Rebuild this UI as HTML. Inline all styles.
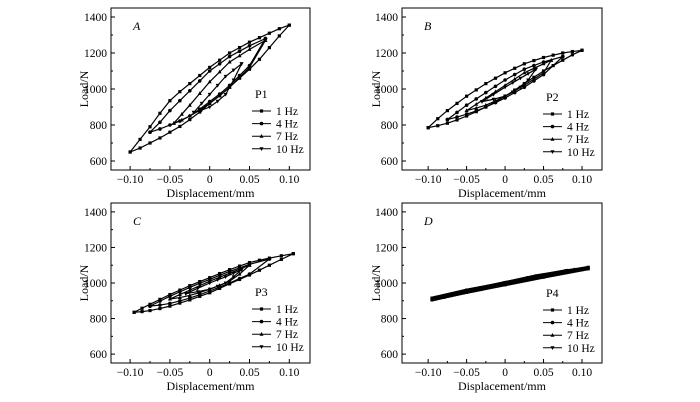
<!DOCTYPE html>
<html><head><meta charset="utf-8">
<style>
body{margin:0;background:#fff;}
svg{display:block;font-family:"Liberation Serif",serif;}
</style></head>
<body>
<svg id="fig" width="700" height="402" viewBox="0 0 700 402"></svg>
<script>
const NS="http://www.w3.org/2000/svg";
const svg=document.getElementById('fig');
const freqs=["1 Hz","4 Hz","7 Hz","10 Hz"];
const xTicks=[-0.10,-0.05,0,0.05,0.10];
const xTickLabels=["\u22120.10","\u22120.05","0","0.05","0.10"];
const yTicks=[600,800,1000,1200,1400];
const yMinor=[700,900,1100,1300];
// Panel A (P1)
const aX1=[-0.10,-0.0875,-0.075,-0.0625,-0.05,-0.0375,-0.025,-0.0125,0,0.0125,0.025,0.0375,0.05,0.0625,0.075,0.0875,0.10];
const aU1=[650,720,790,865,935,985,1030,1075,1120,1160,1200,1230,1260,1285,1310,1335,1355];
const aL1=[650,672,700,728,760,792,830,872,920,963,1010,1060,1110,1165,1230,1295,1355];
const aX2=[-0.075,-0.0625,-0.05,-0.0375,-0.025,-0.0125,0,0.0125,0.025,0.0375,0.05,0.07];
const aU2=[760,815,880,935,990,1045,1100,1140,1180,1210,1240,1280];
const aL2=[760,778,800,822,850,888,930,972,1020,1075,1130,1280];
const aX3=[-0.045,-0.035,-0.025,-0.0125,0,0.0125,0.025,0.0375,0.05,0.07];
const aU3=[810,860,910,975,1040,1095,1150,1185,1220,1270];
const aL3=[810,828,850,882,920,962,1010,1065,1120,1270];
const aX4=[-0.02,-0.01,0,0.01,0.02,0.03,0.04];
const aU4=[870,920,970,1020,1070,1105,1140];
const aL4=[870,883,900,932,970,1050,1140];
// Panel B (P2)
const bX1=[-0.10,-0.0875,-0.075,-0.0625,-0.05,-0.0375,-0.025,-0.0125,0,0.0125,0.025,0.0375,0.05,0.0625,0.075,0.0875,0.10];
const bU1=[785,835,880,920,960,995,1030,1060,1090,1115,1140,1158,1175,1188,1200,1208,1215];
const bL1=[785,796,810,828,850,874,900,929,960,994,1030,1065,1100,1130,1160,1190,1215];
const bX2=[-0.075,-0.0625,-0.05,-0.0375,-0.025,-0.0125,0,0.0125,0.025,0.0375,0.05,0.075];
const bU2=[830,870,910,945,980,1015,1050,1080,1110,1130,1150,1180];
const bL2=[830,844,860,878,900,924,950,980,1010,1045,1080,1180];
const bX3=[-0.05,-0.0375,-0.025,-0.0125,0,0.0125,0.025,0.0375,0.05,0.06];
const bU3=[880,915,950,985,1020,1055,1090,1115,1140,1160];
const bL3=[880,894,910,934,960,990,1020,1055,1090,1160];
const bX4=[-0.03,-0.015,0,0.01,0.02,0.03,0.04];
const bU4=[930,970,1010,1035,1060,1085,1110];
const bL4=[930,943,960,983,1010,1050,1110];
// Panel C (P3)
const cX1=[-0.095,-0.085,-0.075,-0.0625,-0.05,-0.0375,-0.025,-0.0125,0,0.0125,0.025,0.0375,0.05,0.0625,0.075,0.09,0.105];
const cU1=[835,858,880,908,935,960,985,1008,1030,1053,1075,1095,1115,1128,1140,1153,1165];
const cL1=[835,839,845,856,870,887,905,925,945,970,995,1020,1045,1072,1100,1133,1165];
const cX2=[-0.075,-0.0625,-0.05,-0.0375,-0.025,-0.0125,0,0.0125,0.025,0.0375,0.05,0.075];
const cU2=[870,898,925,950,975,998,1020,1043,1065,1085,1105,1135];
const cL2=[870,876,885,899,915,934,955,977,1000,1025,1050,1135];
const cX3=[-0.05,-0.0375,-0.025,-0.0125,0,0.0125,0.025,0.0375,0.05];
const cU3=[910,935,960,985,1010,1033,1055,1078,1100];
const cL3=[910,918,930,946,965,987,1010,1050,1100];
const cX4=[-0.03,-0.015,0,0.01,0.02,0.03,0.04];
const cU4=[940,970,1000,1018,1035,1055,1075];
const cL4=[940,951,965,982,1000,1035,1075];
// Panel D (P4)
const dX1=[-0.095,-0.05,0,0.05,0.108];
const dU1=[915,960,1000,1045,1088];
const dL1=[905,948,990,1033,1080];
const dX2=[-0.09,-0.05,0,0.05,0.1];
const dU2=[918,958,1002,1042,1080];
const dL2=[910,950,993,1036,1075];
const dX3=[-0.08,-0.04,0,0.04,0.09];
const dU3=[928,965,1002,1040,1075];
const dL3=[920,957,995,1032,1070];
const dX4=[-0.07,-0.03,0,0.03,0.08];
const dU4=[936,972,1002,1030,1070];
const dL4=[930,965,995,1024,1062];

const panels=[
 {id:"a",letter:"A",label:"P1",box:[111,8,310,170],xd:[-0.124,0.126],yd:[550,1450],ylab:88,
  loops:[[aX1,aU1,aL1],[aX2,aU2,aL2],[aX3,aU3,aL3],[aX4,aU4,aL4]],leg:[252,98]},
 {id:"b",letter:"B",label:"P2",box:[402,8,602,170],xd:[-0.134,0.126],yd:[550,1450],ylab:380,
  loops:[[bX1,bU1,bL1],[bX2,bU2,bL2],[bX3,bU3,bL3],[bX4,bU4,bL4]],leg:[543,101]},
 {id:"c",letter:"C",label:"P3",box:[111,203,310,363],xd:[-0.124,0.126],yd:[550,1450],ylab:88,
  loops:[[cX1,cU1,cL1],[cX2,cU2,cL2],[cX3,cU3,cL3],[cX4,cU4,cL4]],leg:[252,296]},
 {id:"d",letter:"D",label:"P4",box:[402,203,602,363],xd:[-0.134,0.126],yd:[550,1450],ylab:380,
  loops:[[dX1,dU1,dL1],[dX2,dU2,dL2],[dX3,dU3,dL3],[dX4,dU4,dL4]],leg:[543,297]}
];
function el(tag,attrs,parent){const e=document.createElementNS(NS,tag);for(const k in attrs)e.setAttribute(k,attrs[k]);(parent||svg).appendChild(e);return e;}
function marker(g,type,x,y){
 if(type===0)el('rect',{x:x-1.6,y:y-1.6,width:3.2,height:3.2,fill:'#000'},g);
 else if(type===1)el('circle',{cx:x,cy:y,r:1.8,fill:'#000'},g);
 else if(type===2)el('polygon',{points:`${x},${y-2.2} ${x-2},${y+1.5} ${x+2},${y+1.5}`,fill:'#000'},g);
 else el('polygon',{points:`${x},${y+2.2} ${x-2},${y-1.5} ${x+2},${y-1.5}`,fill:'#000'},g);
}
panels.forEach(p=>{
 const [x0,y0,x1,y1]=p.box;
 const sx=v=>x0+(v-p.xd[0])/(p.xd[1]-p.xd[0])*(x1-x0);
 const sy=v=>y1-(v-p.yd[0])/(p.yd[1]-p.yd[0])*(y1-y0);
 const g=el('g',{});
 
 
 const fr=el('rect',{x:x0,y:y0,width:x1-x0,height:y1-y0,fill:'none',stroke:'#000','stroke-width':1},g);
 
 
 xTicks.forEach((t,i)=>{
  const X=sx(t);
  el('line',{x1:X,y1:y1,x2:X,y2:y1-4,stroke:'#000'},g);
  const tx=el('text',{x:X,y:y1+13,'font-size':11.5,'text-anchor':'middle'},g);
  tx.textContent=xTickLabels[i];
  
  
  if(i<xTicks.length-1){const m=sx(t+0.025);el('line',{x1:m,y1:y1,x2:m,y2:y1-2,stroke:'#000'},g);}
 });
 yTicks.forEach(t=>{
  const Y=sy(t);
  el('line',{x1:x0,y1:Y,x2:x0+4,y2:Y,stroke:'#000'},g);
  const ty=el('text',{x:x0-4,y:Y+4,'font-size':11.5,'text-anchor':'end'},g);
  ty.textContent=t;
  
  
 });
 yMinor.forEach(t=>{const Y=sy(t);el('line',{x1:x0,y1:Y,x2:x0+2,y2:Y,stroke:'#000'},g);});
 const xl=el('text',{x:(x0+x1)/2,y:y1+27,'font-size':12,'text-anchor':'middle'},g);
 xl.textContent='Displacement/mm';
 
 
 const yl=el('text',{x:p.ylab,y:(y0+y1)/2,'font-size':12,'text-anchor':'middle',transform:`rotate(-90 ${p.ylab} ${(y0+y1)/2})`},g);
 yl.textContent='Load/N';
 
 
 const lt=el('text',{x:x0+22,y:y0+22,'font-size':12,'font-style':'italic'},g);
 lt.textContent=p.letter;
 
 
 p.loops.forEach((L,k)=>{
  const [xs,us,ls]=L;
  const pts=[];
  xs.forEach((x,i)=>pts.push([sx(x),sy(ls[i])]));
  for(let i=xs.length-1;i>=0;i--)pts.push([sx(xs[i]),sy(us[i])]);
  const s=el('g',{},g);
  
  
  el('polyline',{points:pts.map(q=>q.join(',')).join(' '),fill:'none',stroke:'#000','stroke-width':p.id==='d'?3:1.2},s);
  pts.forEach(q=>marker(s,k,q[0],q[1]));
 });
 const [lx,ly]=p.leg;
 const lg=el('text',{x:lx+3,y:ly,'font-size':12},g);
 lg.textContent=p.label;
 
 
 freqs.forEach((f,k)=>{
  const yy=ly+13+12.6*k;
  const e=el('g',{},g);
  
  
  el('line',{x1:lx,y1:yy,x2:lx+19,y2:yy,stroke:'#000'},e);
  marker(e,k,lx+9.5,yy);
  const t=el('text',{x:lx+24,y:yy+4,'font-size':11.5},e);
  t.textContent=f;
 });
});
</script>
</body></html>
